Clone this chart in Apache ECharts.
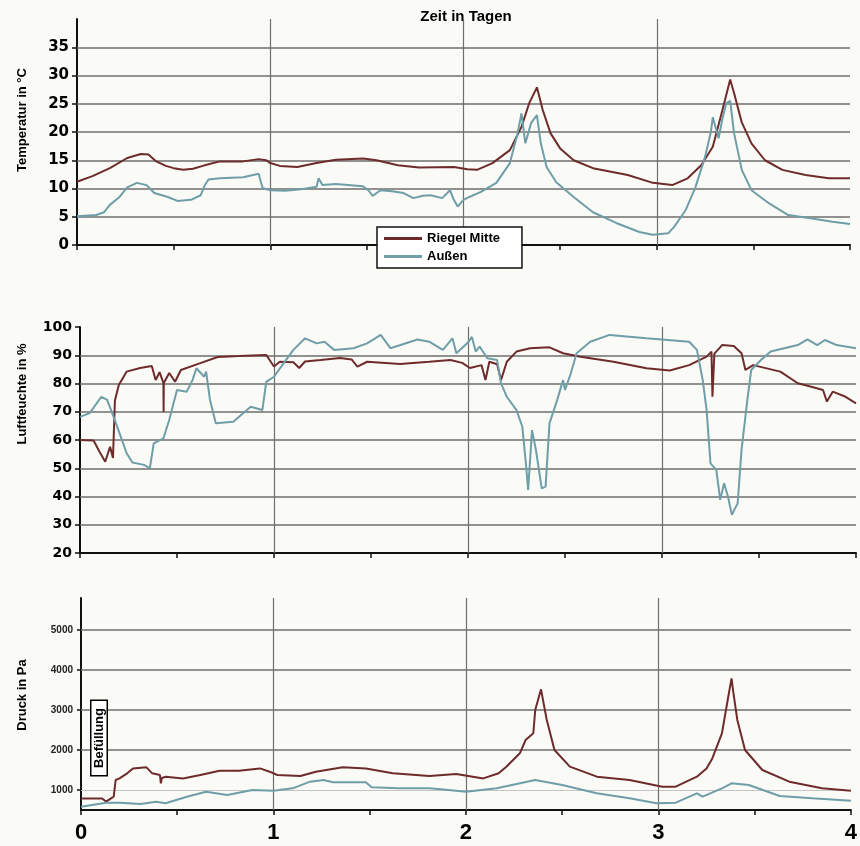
<!DOCTYPE html>
<html><head><meta charset="utf-8">
<script src="https://cdn.jsdelivr.net/npm/echarts@6/dist/echarts.min.js"></script>
<style>html,body{margin:0;padding:0;background:#fafaf7}#c{width:860px;height:846px}</style>
</head><body><div id="c"></div>
<script>
// ---- data (x = Zeit in Tagen) ----
const dayTicks = [0, 1, 2, 3, 4];
const dayGridLines = [1, 2, 3];
const tempTicks = [0, 5, 10, 15, 20, 25, 30, 35];
const tempGridLines = [5, 10, 15, 20, 25, 30, 35];
const humGridLines = [30, 40, 50, 60, 70, 80, 90];
const presTicks = [1000, 2000, 3000, 4000, 5000];
const presGridDark = [2000, 3000, 4000, 5000];
const presGridLight = [1000];
const seriesNames = ['Riegel Mitte', 'Außen'];

const tempRiegel = [[0,11.2],[0.08,12.2],[0.17,13.6],[0.26,15.4],[0.33,16.1],[0.37,16.0],[0.41,14.8],[0.46,14.0],[0.5,13.6],[0.55,13.3],[0.6,13.5],[0.66,14.1],[0.74,14.8],[0.86,14.8],[0.94,15.2],[0.98,15.0],[1.0,14.5],[1.05,14.0],[1.14,13.8],[1.24,14.5],[1.34,15.1],[1.48,15.3],[1.55,15.0],[1.66,14.1],[1.77,13.7],[1.95,13.8],[2.02,13.4],[2.07,13.3],[2.15,14.5],[2.24,16.8],[2.3,20.9],[2.34,25.1],[2.38,27.9],[2.41,23.9],[2.45,19.8],[2.5,17.1],[2.57,15.0],[2.67,13.6],[2.85,12.4],[2.98,11.0],[3.08,10.6],[3.16,11.8],[3.23,14.1],[3.29,17.4],[3.34,23.9],[3.38,29.3],[3.40,26.9],[3.44,21.7],[3.49,18.0],[3.56,15.0],[3.65,13.3],[3.77,12.4],[3.89,11.8],[4.0,11.8]];
const tempAussen = [[0,5.1],[0.1,5.3],[0.14,5.8],[0.17,7.1],[0.22,8.5],[0.26,10.2],[0.31,11.0],[0.36,10.6],[0.40,9.2],[0.47,8.5],[0.52,7.8],[0.59,8.0],[0.64,8.8],[0.66,10.5],[0.68,11.6],[0.74,11.8],[0.86,12.0],[0.94,12.6],[0.96,10.1],[1.0,9.7],[1.08,9.6],[1.17,9.9],[1.24,10.3],[1.25,11.8],[1.27,10.6],[1.34,10.8],[1.48,10.4],[1.51,9.6],[1.53,8.7],[1.57,9.7],[1.63,9.5],[1.69,9.2],[1.74,8.3],[1.79,8.7],[1.83,8.8],[1.89,8.3],[1.93,9.7],[1.95,8.0],[1.97,6.8],[2.0,8.0],[2.03,8.5],[2.09,9.4],[2.17,11.0],[2.24,14.5],[2.28,19.8],[2.30,23.3],[2.32,18.0],[2.35,21.6],[2.38,23.0],[2.40,18.0],[2.43,13.8],[2.48,11.1],[2.57,8.5],[2.67,5.8],[2.79,3.9],[2.91,2.3],[2.98,1.8],[3.06,2.1],[3.09,3.2],[3.15,6.2],[3.20,10.2],[3.25,15.6],[3.28,20.0],[3.29,22.6],[3.32,18.9],[3.34,22.4],[3.36,25.1],[3.38,25.5],[3.40,19.8],[3.44,13.3],[3.49,9.7],[3.58,7.4],[3.68,5.3],[3.82,4.6],[3.91,4.1],[4.0,3.7]];

const humRiegel = [[0,60],[0.07,59.8],[0.10,55.9],[0.13,52.3],[0.155,57.6],[0.17,53.6],[0.18,74],[0.20,79.5],[0.24,84.2],[0.31,85.5],[0.37,86.2],[0.39,81.2],[0.41,84],[0.43,80.2],[0.431,70],[0.432,80.2],[0.46,83.7],[0.49,80.6],[0.52,84.8],[0.62,87.2],[0.71,89.4],[0.82,89.7],[0.96,90.1],[1.0,86],[1.03,87.7],[1.10,87.5],[1.13,85.5],[1.16,87.8],[1.24,88.3],[1.34,89],[1.40,88.5],[1.43,86],[1.48,87.7],[1.65,86.9],[1.80,87.7],[1.91,88.3],[1.97,87.3],[2.01,85.5],[2.07,86.5],[2.09,81.2],[2.11,87.7],[2.15,86.8],[2.17,81.2],[2.20,87.7],[2.25,91.3],[2.32,92.5],[2.42,92.8],[2.49,90.7],[2.58,89.5],[2.75,87.7],[2.92,85.4],[3.04,84.6],[3.14,86.5],[3.23,89.5],[3.255,91.3],[3.26,75.3],[3.27,90.6],[3.31,93.6],[3.37,93.3],[3.41,90.7],[3.43,84.8],[3.47,86.5],[3.61,84.2],[3.70,80.1],[3.76,79],[3.83,77.7],[3.85,73.6],[3.88,77.1],[3.94,75.5],[4.0,73.0]];
const humAussen = [[0,68.2],[0.05,69.5],[0.11,75.3],[0.14,74.2],[0.17,68.8],[0.21,61.2],[0.24,55.4],[0.27,52],[0.33,51.2],[0.36,50],[0.38,58.8],[0.43,60.6],[0.46,67.1],[0.50,77.7],[0.55,77.1],[0.58,81.2],[0.60,85.4],[0.64,82.4],[0.65,84.2],[0.67,74.2],[0.70,65.9],[0.79,66.5],[0.88,71.8],[0.94,70.6],[0.96,80.6],[1.0,82.4],[1.05,87.2],[1.10,91.9],[1.16,96],[1.22,94.2],[1.26,94.8],[1.31,91.9],[1.41,92.5],[1.48,94.2],[1.55,97.2],[1.60,92.5],[1.74,95.6],[1.80,94.8],[1.87,91.9],[1.92,96],[1.94,90.7],[2.0,94.5],[2.02,96.5],[2.04,91.3],[2.06,93.1],[2.10,88.9],[2.15,88.3],[2.17,80.1],[2.20,75.3],[2.25,70.6],[2.28,64.7],[2.30,50.5],[2.31,42.3],[2.33,63.5],[2.35,56.5],[2.38,42.9],[2.40,43.5],[2.42,65.9],[2.46,74.2],[2.49,81.2],[2.50,77.7],[2.53,83.6],[2.56,90.7],[2.63,94.8],[2.73,97.2],[2.92,96],[3.14,94.8],[3.18,91.9],[3.21,81.2],[3.23,70.6],[3.25,51.7],[3.28,49.4],[3.30,38.8],[3.32,44.7],[3.34,40],[3.36,33.5],[3.39,37.6],[3.41,56.5],[3.44,74.2],[3.46,84.8],[3.51,88.3],[3.56,91.3],[3.70,93.6],[3.75,95.6],[3.80,93.6],[3.84,95.4],[3.90,93.6],[4.0,92.5]];

const presRiegel = [[0,790],[0.11,790],[0.13,710],[0.17,833],[0.18,1250],[0.20,1290],[0.24,1417],[0.27,1540],[0.34,1567],[0.37,1417],[0.41,1375],[0.415,1167],[0.42,1300],[0.44,1333],[0.53,1290],[0.62,1375],[0.72,1483],[0.82,1483],[0.93,1540],[0.98,1458],[1.02,1375],[1.14,1350],[1.22,1458],[1.36,1567],[1.48,1540],[1.62,1417],[1.81,1350],[1.95,1400],[2.09,1290],[2.17,1417],[2.21,1583],[2.28,1917],[2.31,2250],[2.35,2417],[2.36,3000],[2.39,3517],[2.42,2750],[2.46,2000],[2.54,1583],[2.68,1333],[2.85,1250],[3.02,1083],[3.09,1083],[3.20,1333],[3.25,1540],[3.28,1790],[3.33,2417],[3.36,3250],[3.38,3790],[3.39,3417],[3.41,2750],[3.45,2000],[3.54,1500],[3.68,1208],[3.85,1042],[4.0,983]];
const presAussen = [[0,583],[0.13,683],[0.20,683],[0.31,650],[0.39,708],[0.44,667],[0.55,833],[0.65,958],[0.76,875],[0.89,1000],[1.0,983],[1.10,1042],[1.19,1208],[1.26,1250],[1.31,1192],[1.48,1192],[1.51,1067],[1.65,1042],[1.81,1042],[1.91,1000],[2.0,958],[2.16,1042],[2.36,1250],[2.50,1125],[2.68,917],[2.85,792],[2.99,667],[3.09,683],[3.20,917],[3.23,833],[3.33,1042],[3.38,1167],[3.47,1125],[3.63,850],[3.80,792],[4.0,733]];

// ---- styling ----
const RED = '#6e2b2c';
const TEAL = '#6f9ea8';
const GRID_C = '#6e6e6e';
const AX = '#111';
const FONT = '"Liberation Sans", Arial, sans-serif';

function gridMarks(hVals, hColor, extraH) {
  const data = hVals.map(v => ({ yAxis: v, lineStyle: { color: GRID_C, width: 1.5, type: 'solid' } }))
    .concat((extraH || []).map(v => ({ yAxis: v, lineStyle: { color: '#c4c4c4', width: 1, type: 'solid' } })))
    .concat(dayGridLines.map(v => ({ xAxis: v, lineStyle: { color: GRID_C, width: 1.2, type: 'solid' } })));
  return { silent: true, symbol: 'none', z: 1, label: { show: false }, data: data, animation: false };
}

function xAx(i, showLabel) {
  return {
    type: 'value', gridIndex: i, min: 0, max: 4, interval: 1,
    axisLine: { onZero: false, lineStyle: { color: AX, width: 2 } },
    axisTick: { show: true, length: 5, lineStyle: { color: AX, width: 1.5 } },
    minorTick: { show: true, splitNumber: 2, length: 5, lineStyle: { color: AX, width: 1.5 } },
    splitLine: { show: false },
    axisLabel: showLabel ? { show: true, margin: 12, color: '#000', fontFamily: '"Liberation Sans Narrow", ' + FONT, fontWeight: 'bold', fontSize: 22 } : { show: false }
  };
}

function lineSeries(name, data, color, xi) {
  return { type: 'line', name: name, data: data, xAxisIndex: xi, yAxisIndex: xi, showSymbol: false, symbol: 'none',
    lineStyle: { color: color, width: 2 }, itemStyle: { color: color }, z: 3, animation: false };
}

const chart = echarts.init(document.getElementById('c'));
const sR1 = lineSeries(seriesNames[0], tempRiegel, RED, 0);
sR1.markLine = gridMarks(tempGridLines);
const sR2 = lineSeries(seriesNames[0], humRiegel, RED, 1);
sR2.markLine = gridMarks(humGridLines);
const sR3 = lineSeries(seriesNames[0], presRiegel, RED, 2);
sR3.markLine = gridMarks(presGridDark, null, presGridLight);

chart.setOption({
  backgroundColor: '#fafaf7',
  animation: false,
  grid: [
    { left: 77, right: 10, top: 19, height: 226 },
    { left: 80, right: 4, top: 327, height: 226 },
    { left: 81, right: 8, top: 598, height: 212 }
  ],
  xAxis: [xAx(0, false), xAx(1, false), xAx(2, true)],
  yAxis: [
    { type: 'value', gridIndex: 0, min: 0, max: 40,
      axisLine: { show: true, lineStyle: { color: AX, width: 2 } },
      axisTick: { show: true, length: 5, customValues: tempTicks, lineStyle: { color: AX, width: 1.5 } },
      axisLabel: { customValues: tempTicks, margin: 8, color: '#000', fontFamily: '"DejaVu Sans", sans-serif', fontWeight: 'bold', fontSize: 15 },
      splitLine: { show: false } },
    { type: 'value', gridIndex: 1, min: 20, max: 100, interval: 10,
      axisLine: { show: true, lineStyle: { color: AX, width: 2 } },
      axisTick: { show: true, length: 5, lineStyle: { color: AX, width: 1.5 } },
      axisLabel: { margin: 8, color: '#000', fontFamily: '"DejaVu Sans", sans-serif', fontWeight: 'bold', fontSize: 14 },
      splitLine: { show: false } },
    { type: 'value', gridIndex: 2, min: 500, max: 5800,
      axisLine: { show: true, lineStyle: { color: AX, width: 2 } },
      axisTick: { show: true, length: 4, customValues: presTicks, lineStyle: { color: AX, width: 1.5 } },
      axisLabel: { customValues: presTicks, formatter: v => String(v), margin: 8, color: '#222', fontFamily: FONT, fontWeight: 'bold', fontSize: 10 },
      splitLine: { show: false } }
  ],
  legend: {
    data: seriesNames, left: 377, top: 227, orient: 'vertical',
    icon: 'rect', itemWidth: 38, itemHeight: 3, itemGap: 5,
    padding: [5, 22, 5, 7], backgroundColor: '#fff', borderColor: '#111', borderWidth: 1.5, borderRadius: 0,
    textStyle: { color: '#000', fontFamily: FONT, fontWeight: 'bold', fontSize: 13 },
    selectedMode: false
  },
  graphic: [
    { type: 'text', x: 466, y: 17, style: { text: 'Zeit in Tagen', font: 'bold 15px ' + FONT, fill: '#000', align: 'center', verticalAlign: 'middle' } },
    { type: 'text', x: 22, y: 120, rotation: Math.PI / 2, style: { text: 'Temperatur in °C', font: 'bold 13px ' + FONT, fill: '#000', align: 'center', verticalAlign: 'middle' } },
    { type: 'text', x: 22, y: 394, rotation: Math.PI / 2, style: { text: 'Luftfeuchte in %', font: 'bold 13px ' + FONT, fill: '#000', align: 'center', verticalAlign: 'middle' } },
    { type: 'text', x: 22, y: 695, rotation: Math.PI / 2, style: { text: 'Druck in Pa', font: 'bold 13px ' + FONT, fill: '#000', align: 'center', verticalAlign: 'middle' } },
    { type: 'text', x: 99, y: 738, rotation: Math.PI / 2, z: 10, style: { text: 'Befüllung', font: 'bold 13px ' + FONT, fill: '#000', align: 'center', verticalAlign: 'middle', backgroundColor: '#fff', borderColor: '#000', borderWidth: 1.5, padding: [1, 7] } }
  ],
  series: [
    sR1, lineSeries(seriesNames[1], tempAussen, TEAL, 0),
    sR2, lineSeries(seriesNames[1], humAussen, TEAL, 1),
    sR3, lineSeries(seriesNames[1], presAussen, TEAL, 2)
  ]
});
</script></body></html>
